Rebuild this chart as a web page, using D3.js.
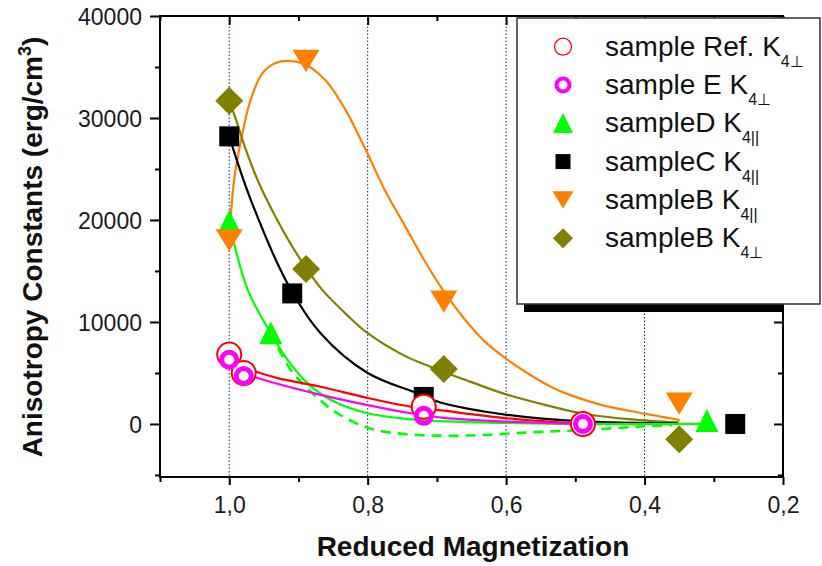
<!DOCTYPE html>
<html><head><meta charset="utf-8">
<script src="https://cdn.jsdelivr.net/npm/d3@7"></script>
<style>
body{margin:0;background:#fff;}
svg{display:block;font-family:"Liberation Sans",Arial,Helvetica,sans-serif;}
</style>
</head><body>
<svg id="c" width="822" height="566"></svg>
<script>
// ---------- data ----------
// measured points
const refX = [1.0, 0.979, 0.719, 0.489];
const refY = [6800, 5000, 1700, 0];
const eX = [1.0, 0.979, 0.719, 0.489];
const eY = [6300, 4700, 800, 0];
const dX = [1.0, 0.94, 0.31];
const dY = [19800, 8900, 300];
const cX = [1.0, 0.909, 0.719, 0.269];
const cY = [28200, 12800, 2650, 0];
const bParX = [1.0, 0.889, 0.69, 0.35];
const bParY = [18000, 35600, 12000, 2000];
const bPerpX = [1.0, 0.889, 0.69, 0.35];
const bPerpY = [31700, 15200, 5400, -1500];

// fitted curves
const fitRefX = [1.0, 0.98, 0.964, 0.93, 0.868, 0.80, 0.738, 0.69, 0.599, 0.489];
const fitRefY = [6800, 5700, 5200, 4500, 3650, 2550, 1700, 1300, 560, 0];
const fitEX = [1.0, 0.979, 0.959, 0.868, 0.80, 0.738, 0.69, 0.599, 0.489];
const fitEY = [6300, 5000, 4500, 2850, 1850, 1050, 600, 230, 0];
const fitDX = [1.0, 0.993, 0.973, 0.94, 0.916, 0.887, 0.853, 0.80, 0.728, 0.599, 0.489, 0.31];
const fitDY = [19800, 17700, 13100, 8900, 6300, 4000, 2350, 1050, 400, 100, 0, 0];
const fitD2X = [0.94, 0.909, 0.868, 0.844, 0.805, 0.776, 0.728, 0.68, 0.632, 0.56, 0.488, 0.392, 0.36];
const fitD2Y = [8900, 5100, 2300, 1050, -250, -750, -1080, -1150, -1080, -800, -600, -200, -120];
const fitCX = [1.0, 0.969, 0.916, 0.868, 0.80, 0.728, 0.695, 0.599, 0.489, 0.353];
const fitCY = [28200, 22000, 13800, 8900, 5000, 3000, 2100, 900, 250, 70];
const fitBParX = [1.0, 0.993, 0.983, 0.969, 0.952, 0.933, 0.9135, 0.889, 0.861, 0.832, 0.803, 0.775, 0.746, 0.717, 0.688, 0.659, 0.631, 0.602, 0.566, 0.537, 0.508, 0.464, 0.421, 0.385, 0.349];
const fitBParY = [18000, 23900, 27800, 31800, 34400, 35400, 35600, 35200, 33700, 30800, 26900, 22900, 19400, 15900, 12800, 10200, 8100, 6500, 4850, 3700, 2850, 1900, 1270, 830, 390];
const fitBPerpX = [1.0, 0.99, 0.976, 0.957, 0.933, 0.909, 0.889, 0.865, 0.83, 0.80, 0.75, 0.72, 0.69, 0.65, 0.60, 0.54, 0.488, 0.42, 0.35];
const fitBPerpY = [31700, 29800, 26900, 23600, 20300, 17400, 15300, 13100, 10700, 8900, 6800, 5900, 5100, 4100, 2900, 1800, 1000, 450, 150];

// axis ticks / labels
const xMajor = [1.0, 0.8, 0.6, 0.4, 0.2];
const xMinor = [1.1, 0.9, 0.7, 0.5, 0.3];
const xGrid = [1.0, 0.8, 0.6, 0.4];
const yMajor = [0, 10000, 20000, 30000, 40000];
const yMinor = [-5000, 5000, 15000, 25000, 35000];

const legendMain = ["sample Ref. K", "sample E K", "sampleD K", "sampleC K", "sampleB K", "sampleB K"];
const legendSub = ["4\u22A5", "4\u22A5", "4||", "4||", "4||", "4\u22A5"];

// ---------- drawing ----------
const svg = d3.select("#c");
const L = 160, R = 783, T = 16, B = 477;
const x = d3.scaleLinear().domain([1.1, 0.2]).range([L, R]);
const y = d3.scaleLinear().domain([-5200, 40000]).range([B, T]);

const colors = {ref:"#ff0000", e:"#ff00ff", d:"#00ff00", c:"#000000", bpar:"#ff8000", bperp:"#808000"};

// grid
svg.append("g").selectAll("line").data(xGrid).join("line")
  .attr("x1", d => x(d)).attr("x2", d => x(d)).attr("y1", T).attr("y2", B)
  .attr("stroke", "#1a1aa0").attr("stroke-width", 1).attr("stroke-dasharray", "1.5,2");

// axes
const fmtX = d => d3.format(".1f")(d).replace(".", ",");
const axB = svg.append("g").attr("transform", `translate(0,${B})`)
  .call(d3.axisBottom(x).tickValues(xMajor).tickSize(8).tickFormat(fmtX));
const axBm = svg.append("g").attr("transform", `translate(0,${B})`)
  .call(d3.axisBottom(x).tickValues(xMinor).tickSize(5).tickFormat(""));
const axT = svg.append("g").attr("transform", `translate(0,${T})`)
  .call(d3.axisBottom(x).tickValues(xMajor).tickSize(9).tickFormat(""));
const axTm = svg.append("g").attr("transform", `translate(0,${T})`)
  .call(d3.axisBottom(x).tickValues(xMinor).tickSize(5).tickFormat(""));
const axL = svg.append("g").attr("transform", `translate(${L},0)`)
  .call(d3.axisLeft(y).tickValues(yMajor).tickSize(10).tickPadding(8).tickFormat(d3.format("d")));
const axLm = svg.append("g").attr("transform", `translate(${L},0)`)
  .call(d3.axisLeft(y).tickValues(yMinor).tickSize(5).tickFormat(""));
const axR = svg.append("g").attr("transform", `translate(${R},0)`)
  .call(d3.axisLeft(y).tickValues(yMajor).tickSize(9).tickFormat(""));
const axRm = svg.append("g").attr("transform", `translate(${R},0)`)
  .call(d3.axisLeft(y).tickValues(yMinor).tickSize(5).tickFormat(""));
[axB, axBm, axT, axTm, axL, axLm, axR, axRm].forEach(g => {
  g.select(".domain").remove();
  g.selectAll(".tick line").attr("stroke", "#000").attr("stroke-width", 2);
  g.selectAll(".tick text").attr("fill", "#1a1a1a").attr("font-size", 23)
    .attr("font-family", '"Liberation Sans",Arial,sans-serif');
});
axB.selectAll(".tick text").attr("dy", null).attr("y", 36);
axL.selectAll(".tick text").attr("dy", "0.36em");

// frame
svg.append("rect").attr("x", L).attr("y", T).attr("width", R - L).attr("height", B - T)
  .attr("fill", "none").attr("stroke", "#000").attr("stroke-width", 2);

// axis titles
svg.append("text").attr("x", 473).attr("y", 556).attr("text-anchor", "middle")
  .attr("font-size", 28).attr("font-weight", "bold").attr("fill", "#111")
  .text("Reduced Magnetization");
const yt = svg.append("text").attr("transform", "translate(42,247) rotate(-90)")
  .attr("text-anchor", "middle").attr("font-size", 28).attr("font-weight", "bold").attr("fill", "#111");
yt.append("tspan").text("Anisotropy Constants (erg/cm");
yt.append("tspan").attr("font-size", 18).attr("dy", -11).text("3");
yt.append("tspan").attr("dy", 11).text(")");

// curves
const line = d3.line().x(d => x(d[0])).y(d => y(d[1])).curve(d3.curveCatmullRom.alpha(0.5));
const zip = (a, b) => a.map((v, i) => [v, b[i]]);
const curves = [
  {xs: fitD2X, ys: fitD2Y, c: colors.d, dash: "10,7", w: 2.6},
  {xs: fitBParX, ys: fitBParY, c: colors.bpar, w: 2.2},
  {xs: fitBPerpX, ys: fitBPerpY, c: colors.bperp, w: 2.2},
  {xs: fitCX, ys: fitCY, c: colors.c, w: 2.2},
  {xs: fitDX, ys: fitDY, c: colors.d, w: 2.2},
  {xs: fitRefX, ys: fitRefY, c: colors.ref, w: 2.2},
  {xs: fitEX, ys: fitEY, c: colors.e, w: 2.2}
];
svg.append("g").selectAll("path").data(curves).join("path")
  .attr("d", d => line(zip(d.xs, d.ys)))
  .attr("fill", "none").attr("stroke", d => d.c).attr("stroke-width", d => d.w)
  .attr("stroke-dasharray", d => d.dash || null);

// marker shapes
const shapes = {
  sq: s => `M${-s/2},${-s/2}h${s}v${s}h${-s}Z`,
  up: s => `M0,${-s*0.52}L${s/2},${s*0.48}L${-s/2},${s*0.48}Z`,
  down: s => `M${-s/2},${-s*0.41}L${s/2},${-s*0.41}L0,${s*0.41}Z`,
  dia: s => `M0,${-s/2}L${s/2},0L0,${s/2}L${-s/2},0Z`
};
const mk = svg.append("g");
function pathMarkers(xs, ys, shape, size, color) {
  mk.append("g").selectAll("path").data(zip(xs, ys)).join("path")
    .attr("transform", d => `translate(${x(d[0])},${y(d[1])})`)
    .attr("d", shapes[shape](size)).attr("fill", color);
}
pathMarkers(cX, cY, "sq", 20, colors.c);
pathMarkers(dX, dY, "up", 23, colors.d);
pathMarkers(bParX, bParY, "down", 27, colors.bpar);
pathMarkers(bPerpX, bPerpY, "dia", 28, colors.bperp);
mk.append("g").selectAll("circle").data(zip(refX, refY)).join("circle")
  .attr("cx", d => x(d[0])).attr("cy", d => y(d[1])).attr("r", 12)
  .attr("fill", "#fff").attr("stroke", colors.ref).attr("stroke-width", 2);
mk.append("g").selectAll("circle").data(zip(eX, eY)).join("circle")
  .attr("cx", d => x(d[0])).attr("cy", d => y(d[1])).attr("r", 7.5)
  .attr("fill", "none").attr("stroke", colors.e).attr("stroke-width", 5);

// legend
svg.append("rect").attr("x", 524).attr("y", 304).attr("width", R - 524).attr("height", 8).attr("fill", "#000");
svg.append("rect").attr("x", 517).attr("y", 18).attr("width", 303).attr("height", 286)
  .attr("fill", "#fff").attr("stroke", "#333").attr("stroke-width", 1.5);
const lg = svg.append("g");
const legSym = [
  g => g.append("circle").attr("r", 8.5).attr("fill", "#fff").attr("stroke", colors.ref).attr("stroke-width", 1.3),
  g => g.append("circle").attr("r", 6.5).attr("fill", "none").attr("stroke", colors.e).attr("stroke-width", 4),
  g => g.append("path").attr("d", shapes.up(20)).attr("fill", colors.d),
  g => g.append("path").attr("d", shapes.sq(15)).attr("fill", colors.c),
  g => g.append("path").attr("d", shapes.down(21)).attr("fill", colors.bpar),
  g => g.append("path").attr("d", shapes.dia(20)).attr("fill", colors.bperp)
];
legendMain.forEach((t, i) => {
  const cy = 46.7 + i * 38.3;
  const sg = lg.append("g").attr("transform", `translate(563,${cy})`);
  legSym[i](sg);
  const tx = lg.append("text").attr("x", 605).attr("y", cy + 9).attr("font-size", 28).attr("fill", "#111");
  tx.append("tspan").text(t);
  tx.append("tspan").attr("font-size", 16).attr("dy", 11).text(legendSub[i]);
});
</script>
</body></html>
